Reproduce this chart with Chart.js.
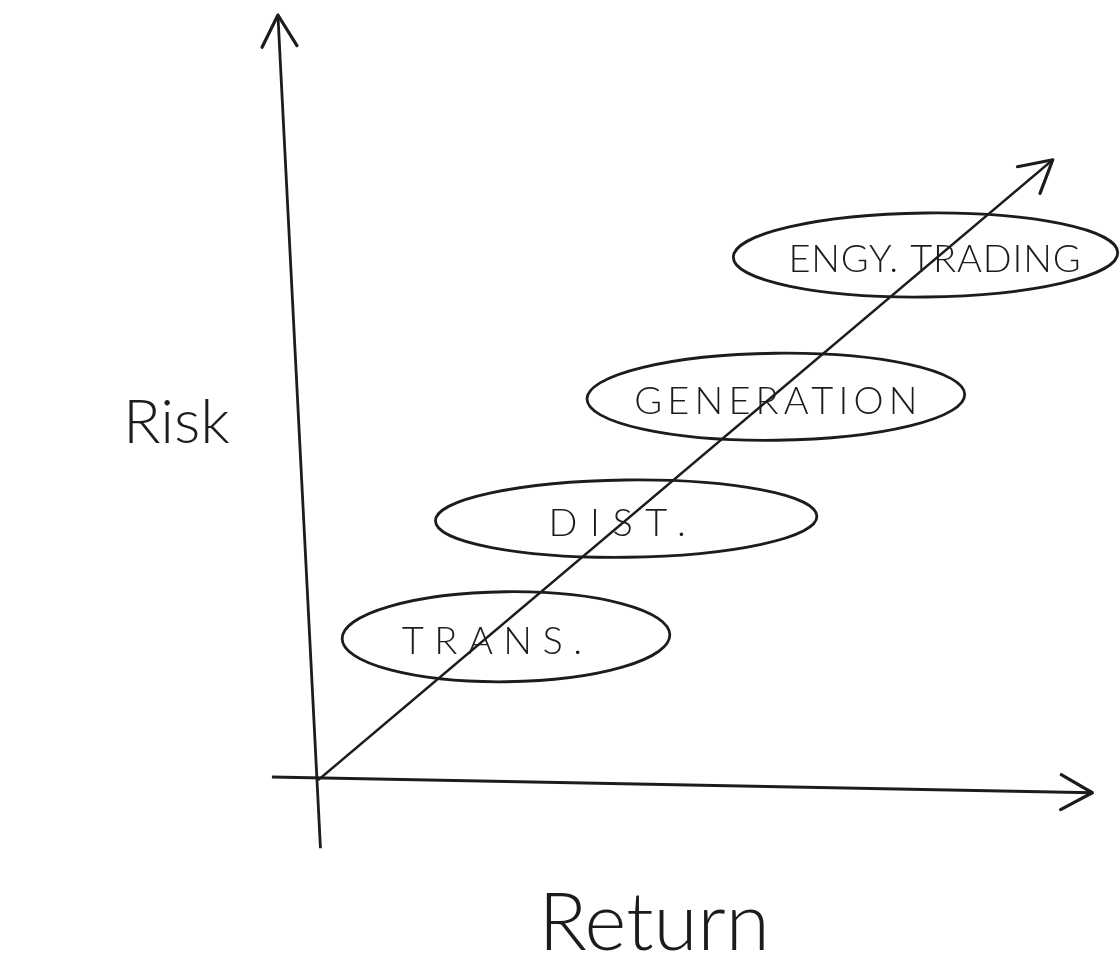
<!DOCTYPE html>
<html>
<head>
<meta charset="utf-8">
<script src="https://cdn.jsdelivr.net/npm/chart.js@4/dist/chart.umd.min.js"></script>
<style>
  html, body { margin: 0; padding: 0; background: #ffffff; }
  #wrap { width: 1120px; height: 957px; position: relative; }
</style>
</head>
<body>
<div id="wrap"><canvas id="c"></canvas></div>
<script>
// ---- Data (Return on x, Risk on y) ----
const categories   = ["TRANS.", "DIST.", "GENERATION", "ENGY. TRADING"];
const returnLow    = [0.32, 1.57, 3.60, 5.56];
const returnHigh   = [4.71, 6.68, 8.66, 10.71];
const riskLow      = [1.31, 2.97, 4.53, 6.44];
const riskHigh     = [2.51, 4.00, 5.69, 7.56];

// axis arrows and the risk/return trend arrow (start, end)
const xAxisReturn  = [-0.62, 10.37];
const xAxisRisk    = [0.04, -0.17];
const yAxisReturn  = [0.03, -0.54];
const yAxisRisk    = [-0.91, 10.20];
const trendReturn  = [0, 9.84];
const trendRisk    = [0, 8.27];

const axisTitles   = { x: "Return", y: "Risk" };

// ---- Styles (kept apart from the data) ----
const INK = "#1c1c1c";
const labelFill  = [0.55, 0.36, 0.75, 0.76];   // share of ellipse width taken by the label
const labelShift = [-14, -9, 0, 9];             // px horizontal nudge of each label
const LABEL_FONT = "300 38px Lato, 'Open Sans', sans-serif";

function pts(xs, ys) { return xs.map((x, i) => ({ x: x, y: ys[i] })); }

const lineStyle = {
  type: "line", showLine: true, pointRadius: 0, borderColor: INK,
  borderWidth: 2.8, tension: 0, fill: false, clip: false
};

const sketchPlugin = {
  id: "sketch",
  afterDatasetsDraw(chart) {
    const ctx = chart.ctx;
    const xs = chart.scales.x, ys = chart.scales.y;
    ctx.save();
    ctx.strokeStyle = INK;
    ctx.fillStyle = INK;
    ctx.lineCap = "round";
    ctx.lineJoin = "round";

    // arrowheads at the end of each line dataset
    chart.data.datasets.forEach((ds) => {
      const d = ds.data;
      const a = d[d.length - 2], b = d[d.length - 1];
      const ax = xs.getPixelForValue(a.x), ay = ys.getPixelForValue(a.y);
      const bx = xs.getPixelForValue(b.x), by = ys.getPixelForValue(b.y);
      const ang = Math.atan2(by - ay, bx - ax);
      const len = 36, spread = Math.PI / 6.2;
      ctx.lineWidth = 3.2;
      ctx.beginPath();
      ctx.moveTo(bx - len * Math.cos(ang - spread), by - len * Math.sin(ang - spread));
      ctx.lineTo(bx, by);
      ctx.lineTo(bx - len * Math.cos(ang + spread), by - len * Math.sin(ang + spread));
      ctx.stroke();
    });

    // category ellipses with labels
    categories.forEach((name, i) => {
      const x1 = xs.getPixelForValue(returnLow[i]), x2 = xs.getPixelForValue(returnHigh[i]);
      const y1 = ys.getPixelForValue(riskHigh[i]), y2 = ys.getPixelForValue(riskLow[i]);
      const cx = (x1 + x2) / 2, cy = (y1 + y2) / 2;
      const rx = (x2 - x1) / 2, ry = (y2 - y1) / 2;
      ctx.lineWidth = 2.8;
      ctx.beginPath();
      ctx.ellipse(cx, cy, rx, ry, -0.012, 0, Math.PI * 2);
      ctx.stroke();

      ctx.font = LABEL_FONT;
      ctx.letterSpacing = "0px";
      const chars = Array.from(name);
      const w0 = ctx.measureText(name).width;
      const target = labelFill[i] * 2 * rx;
      const sp = Math.max(0, (target - w0) / (chars.length - 1));
      ctx.letterSpacing = sp.toFixed(2) + "px";
      ctx.textAlign = "left";
      ctx.textBaseline = "middle";
      ctx.fillText(name, cx + labelShift[i] - target / 2, cy + 5);
    });

    // axis titles (placed through the scales, outside the plotted range)
    ctx.letterSpacing = "0px";
    ctx.textAlign = "center";
    ctx.textBaseline = "alphabetic";
    ctx.font = "300 62px Lato, 'Open Sans', sans-serif";
    ctx.fillText(axisTitles.y, xs.getPixelForValue(-1.90), ys.getPixelForValue(4.5));
    ctx.font = "300 80px Lato, 'Open Sans', sans-serif";
    ctx.fillText(axisTitles.x, xs.getPixelForValue(4.50), ys.getPixelForValue(-2.27));
    ctx.restore();
  }
};

new Chart(document.getElementById("c"), {
  type: "scatter",
  data: {
    datasets: [
      Object.assign({ label: "Return axis", data: pts(xAxisReturn, xAxisRisk) }, lineStyle),
      Object.assign({ label: "Risk axis", data: pts(yAxisReturn, yAxisRisk) }, lineStyle),
      Object.assign({ label: "Risk vs return", data: pts(trendReturn, trendRisk) }, lineStyle, { borderWidth: 2.3 })
    ]
  },
  options: {
    responsive: true,
    maintainAspectRatio: false,
    animation: false,
    layout: { padding: { left: 260, right: 0, top: 15, bottom: 102 } },
    plugins: { legend: { display: false }, tooltip: { enabled: false } },
    scales: {
      x: { type: "linear", min: -0.78, max: 10.74, display: false },
      y: { type: "linear", min: -1, max: 10.2, display: false }
    }
  },
  plugins: [sketchPlugin]
});
</script>
</body>
</html>
